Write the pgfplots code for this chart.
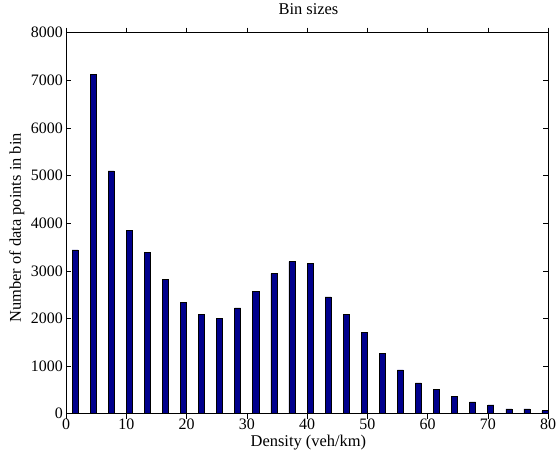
\documentclass[border=0pt]{standalone}
\usepackage{pgfplots}
\pgfplotsset{compat=1.18}
\usepackage{fontspec}
\setmainfont{Liberation Serif}
\definecolor{barblue}{RGB}{0,0,140}
\begin{document}
\begin{tikzpicture}
\begin{axis}[
  scale only axis,
  width=482bp, height=381bp,
  xmin=0, xmax=80, ymin=0, ymax=8000,
  xtick={0,10,...,80}, ytick={0,1000,...,8000},
  tick align=inside, major tick length=5bp,
  tick style={black, line width=0.5bp},
  axis line style={black, line width=0.6bp},
  scaled y ticks=false,
  /pgf/number format/1000 sep={},
  /pgf/number format/assume math mode=true,
  ticklabel style={font=\fontsize{16}{19}\selectfont},
  xticklabel style={inner sep=0pt, yshift=0bp},
  yticklabel style={inner sep=0pt, xshift=-3bp},
  label style={font=\fontsize{16.5}{19}\selectfont},
  title style={font=\fontsize{16.5}{19}\selectfont},
  title={Bin sizes},
  title style={at={(axis description cs:0.503,1.047)}, anchor=center},
  xlabel={Density (veh/km)},
  xlabel style={at={(axis description cs:0.503,-0.076)}, anchor=center},
  ylabel={Number of data points in bin},
  ylabel style={at={(axis description cs:-0.102,0.488)}, anchor=center},
  ybar, bar width=1,
  clip=false,
]
\addplot[fill=barblue, draw=black, line width=0.6bp] coordinates {
(1.5,3440) (4.5,7125) (7.5,5100) (10.5,3845) (13.5,3385) (16.5,2820)
(19.5,2330) (22.5,2085) (25.5,2000) (28.5,2220) (31.5,2575) (34.5,2940)
(37.5,3195) (40.5,3155) (43.5,2455) (46.5,2080) (49.5,1705) (52.5,1260)
(55.5,920) (58.5,648) (61.5,505) (64.5,370) (67.5,248) (70.5,185)
(73.5,102) (76.5,102) (79.5,62)
};
\end{axis}
\useasboundingbox ([shift={(-66bp,-39bp)}]current axis.south west)
  rectangle ([shift={(12bp,30bp)}]current axis.north east);
\end{tikzpicture}
\end{document}
